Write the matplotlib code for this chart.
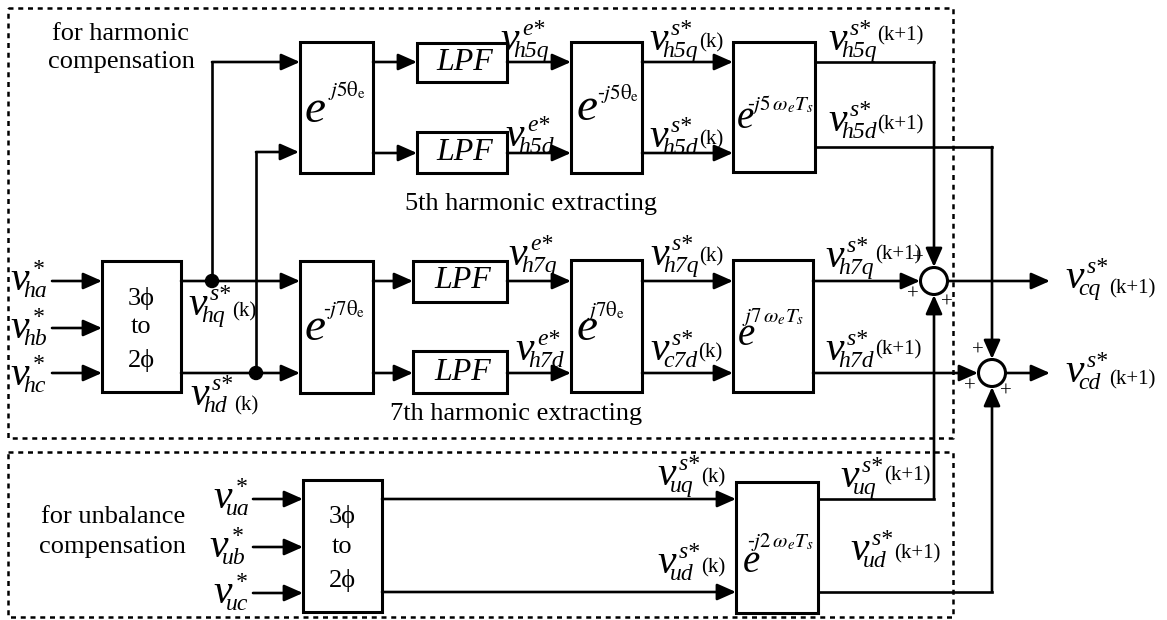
import matplotlib
matplotlib.use("Agg")
import matplotlib.pyplot as plt
from matplotlib.patches import Rectangle, Circle

W, H = 1167, 620
SERIF = ["Liberation Serif", "DejaVu Serif"]
plt.rcParams["mathtext.fontset"] = "stix"

# ---- diagram data (pixel coordinates of the reference) ----
frames = [(8, 8, 953, 438), (8, 452, 953, 617)]

blocks = [(300, 42, 373, 173), (417, 43, 507, 82), (417, 132, 507, 173),
          (571, 42, 642, 173), (733, 42, 815, 172),
          (102, 261, 181, 392), (300, 261, 373, 393), (413, 261, 507, 302),
          (413, 351, 507, 393), (571, 260, 642, 392), (733, 260, 813, 392),
          (303, 480, 382, 612), (736, 482, 818, 613)]

# polylines ending in an arrow head
arrows = [
    [(212, 281), (212, 62), (300, 62)], [(256, 373), (256, 152), (299, 152)],
    [(181, 281), (300, 281)], [(181, 373), (300, 373)],
    [(52, 281), (102, 281)], [(52, 328), (102, 328)], [(52, 373), (102, 373)],
    [(373, 62), (417, 62)], [(373, 153), (417, 153)],
    [(507, 62), (571, 62)], [(507, 153), (571, 153)],
    [(642, 62), (733, 62)], [(642, 153), (733, 153)],
    [(815, 62), (934, 62), (934, 267)], [(815, 147), (992, 147), (992, 359)],
    [(373, 281), (413, 281)], [(373, 373), (413, 373)],
    [(507, 281), (571, 281)], [(507, 373), (571, 373)],
    [(642, 281), (733, 281)], [(642, 373), (733, 373)],
    [(813, 281), (920, 281)], [(813, 373), (978, 373)],
    [(947, 281), (1050, 281)], [(1006, 373), (1050, 373)],
    [(253, 499), (303, 499)], [(253, 547), (303, 547)], [(253, 593), (303, 593)],
    [(382, 499), (736, 499)], [(382, 592), (736, 592)],
    [(818, 499), (934, 499), (934, 295)], [(818, 592), (992, 592), (992, 387)],
]
dots = [(212, 281), (256, 373)]
sums = [(934, 281), (992, 373)]
plus_pos = [(918, 259), (913, 295), (947, 303), (978, 351), (970, 387), (1006, 392)]

# signal labels: v left x, v baseline y, subscript, superscript, tail, tail dy
signals = [
    (500, 50, "h5q", "e*", "", 0), (505, 146, "h5d", "e*", "", 0),
    (649, 50, "h5q", "s*", "(k)", -3), (649, 147, "h5d", "s*", "(k)", -3),
    (828, 50, "h5q", "s*", "(k+1)", -10), (828, 131, "h5d", "s*", "(k+1)", -2),
    (508, 265, "h7q", "e*", "", 0), (515, 360, "h7d", "e*", "", 0),
    (650, 265, "h7q", "s*", "(k)", -4), (650, 360, "c7d", "s*", "(k)", -3),
    (825, 267, "h7q", "s*", "(k+1)", -8), (825, 360, "h7d", "s*", "(k+1)", -6),
    (1065, 288, "cq", "s*", "(k+1)", 5), (1065, 382, "cd", "s*", "(k+1)", 2),
    (188, 315, "hq", "s*", "(k)", 1), (190, 405, "hd", "s*", "(k)", 5),
    (10, 290, "ha", "*", "", 0), (10, 338, "hb", "*", "", 0), (10, 385, "hc", "*", "", 0),
    (213, 508, "ua", "*", "", 0), (209, 557, "ub", "*", "", 0), (213, 603, "uc", "*", "", 0),
    (657, 485, "uq", "s*", "(k)", -3), (657, 573, "ud", "s*", "(k)", -1),
    (840, 487, "uq", "s*", "(k+1)", -7), (850, 560, "ud", "s*", "(k+1)", -2),
]

# exponential blocks: e x, e baseline, e size, exponent, exp x, exp baseline
exps = [
    (305, 122, 34, r"$j5\mathrm{\theta}_\mathrm{e}$", 328, 96),
    (577, 120, 34, r"$\text{-}j5\mathrm{\theta}_\mathrm{e}$", 597, 99),
    (737, 128, 28, r"$\text{-}j5\,\omega_e T_s$", 747, 110),
    (305, 340, 34, r"$\text{-}j7\mathrm{\theta}_\mathrm{e}$", 323, 315),
    (577, 340, 34, r"$j7\mathrm{\theta}_\mathrm{e}$", 587, 316),
    (738, 345, 28, r"$j7\,\omega_e T_s$", 742, 322),
    (743, 572, 28, r"$\text{-}j2\,\omega_e T_s$", 747, 547),
]

lpf_centres = [(465, 62), (465, 153), (463, 281), (463, 372)]
converter_centres = [(141, [298, 327, 360]), (342, [516, 547, 580])]
captions = [("for harmonic", 121, 40), ("compensation", 121, 68),
            ("5th harmonic extracting", 405, 210), ("7th harmonic extracting", 390, 420),
            ("for unbalance", 113, 523), ("compensation", 112, 553)]

fig = plt.figure(figsize=(W / 100, H / 100), dpi=100)
ax = fig.add_axes([0, 0, 1, 1])
ax.set_xlim(0, W)
ax.set_ylim(H, 0)
ax.axis("off")

for x0, y0, x1, y1 in frames:
    ax.plot([x0, x1, x1, x0, x0], [y0, y0, y1, y1, y0], color="k", lw=1.8,
            linestyle=(0, (2.0, 1.9)), solid_capstyle="butt")

for x0, y0, x1, y1 in blocks:
    ax.add_patch(Rectangle((x0, y0), x1 - x0, y1 - y0, fill=False, lw=2.2,
                           ec="k", zorder=3))

for pts in arrows:
    xs, ys = zip(*pts)
    if len(pts) > 2:
        ax.plot(xs[:-1], ys[:-1], color="k", lw=1.9, solid_joinstyle="miter")
    ax.annotate("", xy=pts[-1], xytext=pts[-2],
                arrowprops=dict(arrowstyle="-|>,head_length=0.95,head_width=0.42",
                                mutation_scale=12, lw=1.9, color="k",
                                shrinkA=0, shrinkB=0))

for x, y in dots:
    ax.add_patch(Circle((x, y), 6.5, color="k", zorder=4))
for x, y in sums:
    ax.add_patch(Circle((x, y), 13.5, fc="white", ec="k", lw=2.2, zorder=4))
for x, y in plus_pos:
    ax.text(x, y, "+", fontsize=15, family=SERIF, ha="center", va="center")

fig.canvas.draw()
renderer = fig.canvas.get_renderer()
inv = ax.transData.inverted()


def right_edge(t):
    bb = t.get_window_extent(renderer)
    return inv.transform((bb.x1, bb.y0))[0]


for x, y, sub, sup, tail, tdy in signals:
    ax.text(x, y, "v", fontsize=30, style="italic", family=SERIF, va="baseline")
    ts = ax.text(x + 13, y + 7, sub, fontsize=17, style="italic", family=SERIF,
                 va="baseline")
    tp = ax.text(x + 22, y - 15, sup, fontsize=17, style="italic", family=SERIF,
                 va="baseline")
    if tail:
        xe = max(right_edge(ts), right_edge(tp))
        ax.text(xe + 1, y + tdy, tail, fontsize=15, family=SERIF, va="baseline")

for x, y, size, expo, sx, sy in exps:
    ax.text(x, y, "e", fontsize=size, style="italic", family=SERIF, va="baseline")
    ax.text(sx, sy, expo, fontsize=15, va="baseline")

for x, y in lpf_centres:
    ax.text(x, y, "LPF", fontsize=23, style="italic", family=SERIF,
            ha="center", va="center")

for x, ys in converter_centres:
    for s, y in zip(["3\u03d5", "to", "2\u03d5"], ys):
        ax.text(x, y, s, fontsize=19, family=SERIF, ha="center", va="center")

for s, x, y in captions:
    ha = "center" if "harmonic extracting" not in s else "left"
    ax.text(x, y, s, fontsize=19, family=SERIF, ha=ha, va="baseline")

fig.savefig("out.png", dpi=100)
